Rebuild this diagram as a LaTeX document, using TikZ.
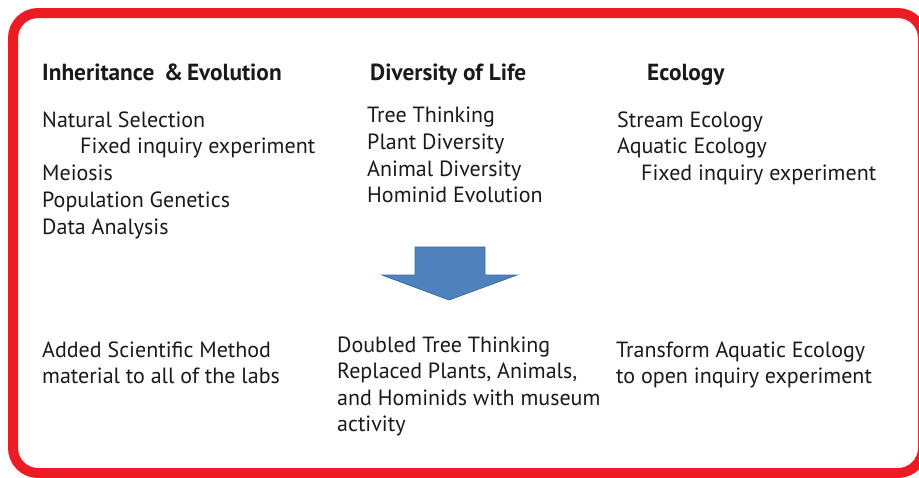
\documentclass[tikz,border=0pt]{standalone}
\usepackage{fontspec}
\setmainfont{PT Sans}
\definecolor{frame}{HTML}{ED1C24}
\definecolor{arrowblue}{HTML}{4F81BD}
\definecolor{arrowedge}{HTML}{3D6CA6}
\definecolor{txt}{HTML}{1A1A1A}
\begin{document}
\begin{tikzpicture}[x=1pt,y=-1pt,
  line/.style={anchor=base west,inner sep=0pt,font=\fontsize{22}{26}\selectfont,text=txt},
  head/.style={line,font=\fontsize{23.3}{26}\selectfont\bfseries}]
\useasboundingbox (0,0) rectangle (919,477);
\clip (0,0) rectangle (919,477);
\fill[white] (0,0) rectangle (919,477);
\draw[frame,line width=10pt,rounded corners=25pt] (13,13) rectangle (923,473);
% headers
\node[head] (h1) at (42,80) {Inheritance \,\&\,Evolution};
\node[head] (h2) at (370,80) {Diversity of Life};
\node[head] (h3) at (647,80) {Ecology};
% left list
\node[line] (l1) at (42,127) {Natural Selection};
\node[line] (l2) at (80,153) {Fixed inquiry experiment};
\node[line] (l3) at (42,180) {Meiosis};
\node[line] (l4) at (42,207) {Population Genetics};
\node[line] (l5) at (42,234) {Data Analysis};
% middle list
\node[line] (m1) at (367,122) {Tree Thinking};
\node[line] (m2) at (367,149) {Plant Diversity};
\node[line] (m3) at (367,176) {Animal Diversity};
\node[line] (m4) at (367,202) {Hominid Evolution};
% right list
\node[line] (r1) at (617,127) {Stream Ecology};
\node[line] (r2) at (617,153) {Aquatic Ecology};
\node[line] (r3) at (641,180) {Fixed inquiry experiment};
% arrow
\filldraw[fill=arrowblue,draw=arrowedge,line width=0.8pt,line join=miter]
  (415,247) -- (485,247) -- (485,275) -- (517,275) -- (449,300) -- (382,275) -- (415,275) -- cycle;
% bottom
\node[line] (b1) at (42,357) {Added Scientific Method};
\node[line] (b2) at (42,383) {material to all of the labs};
\node[line] (c1) at (337,352) {Doubled Tree Thinking};
\node[line] (c2) at (337,378) {Replaced Plants, Animals,};
\node[line] (c3) at (337,405) {and Hominids with museum};
\node[line] (c4) at (337,431) {activity};
\node[line] (d1) at (616,357) {Transform Aquatic Ecology};
\node[line] (d2) at (616,383) {to open inquiry experiment};
\end{tikzpicture}
\end{document}
